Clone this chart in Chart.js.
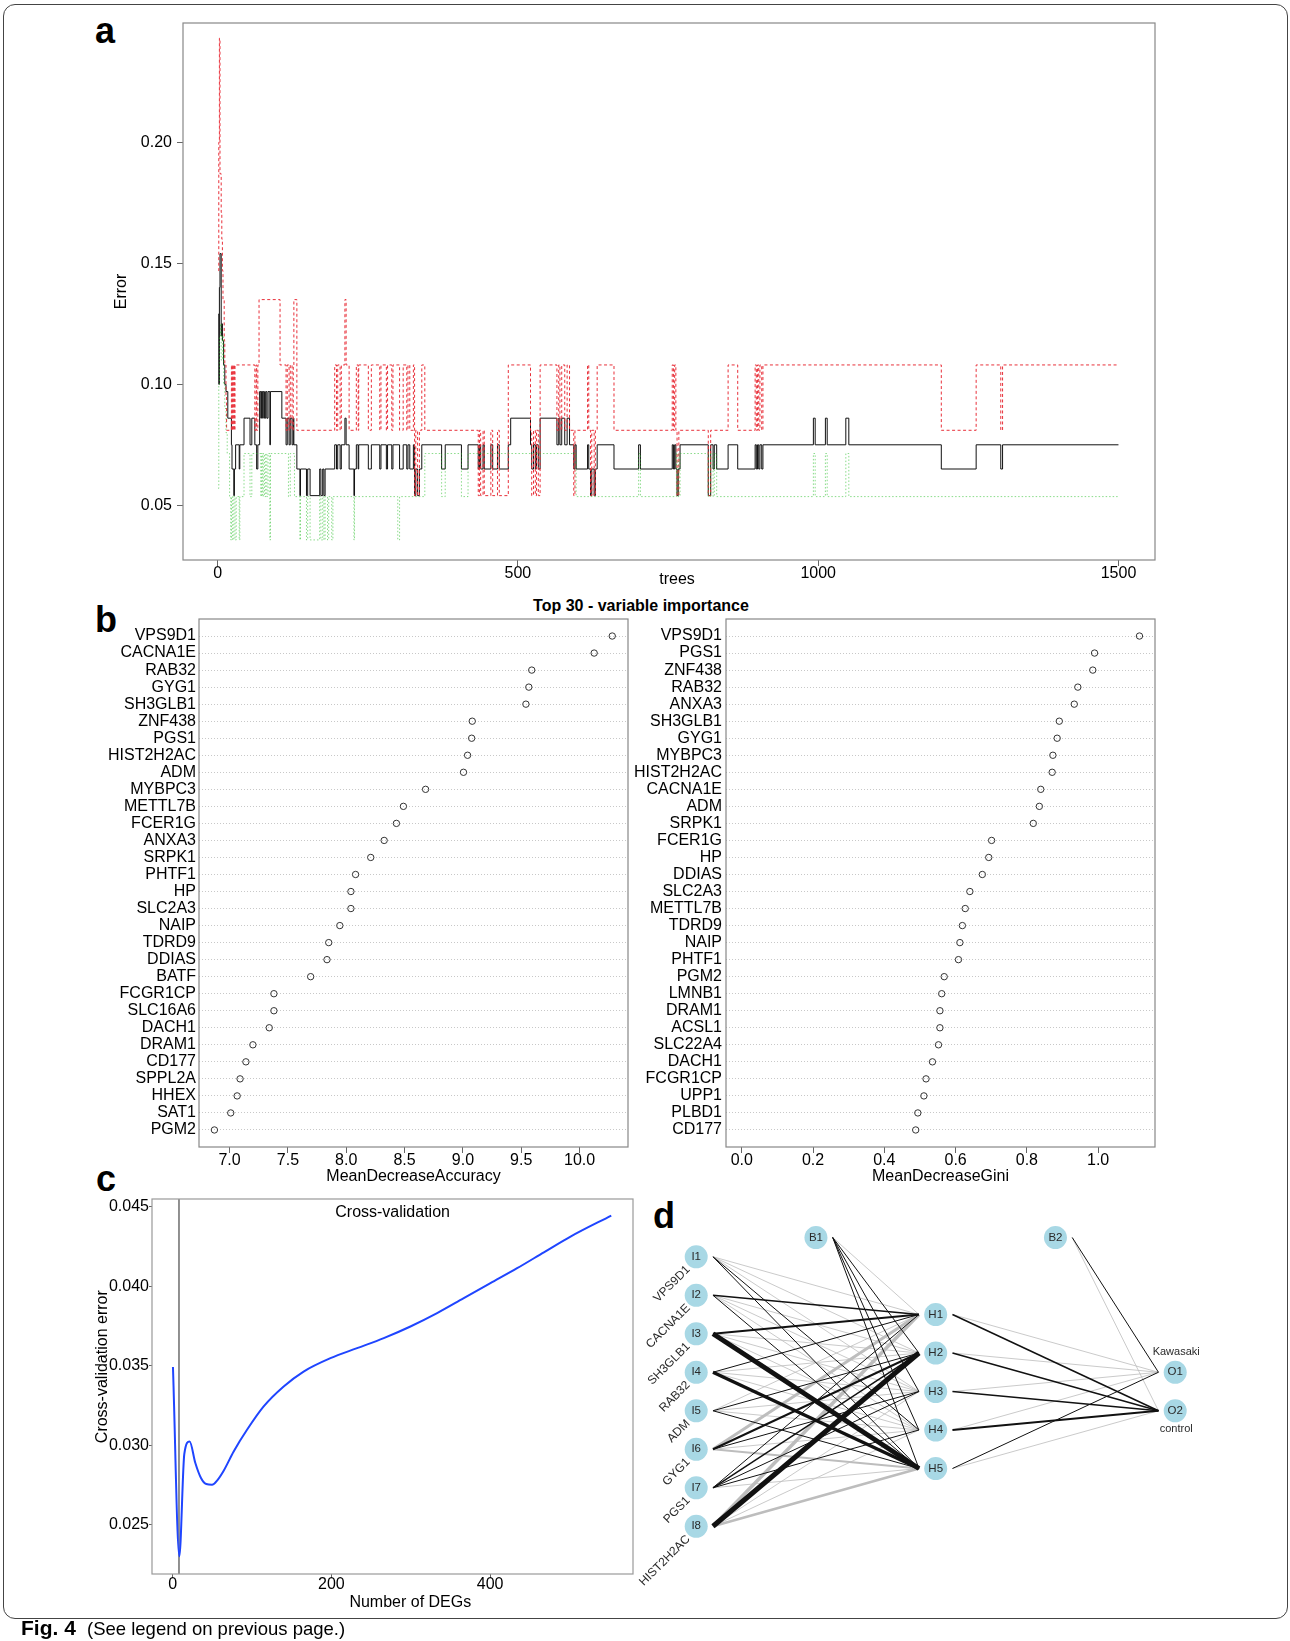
<!DOCTYPE html>
<html>
<head>
<meta charset="utf-8">
<script src="https://cdn.jsdelivr.net/npm/chart.js@4.4.1/dist/chart.umd.min.js"></script>
<style>
    body { margin: 0; background: #fff; width: 1290px; height: 1641px; overflow: hidden; position: relative;
           font-family: "Liberation Sans", Arial, sans-serif; color: #000; }
    canvas { position: absolute; }
    #frame { position: absolute; left: 3px; top: 4px; width: 1283px; height: 1613px;
             border: 1.5px solid #444; border-radius: 12px; }
    .panel { position: absolute; font-size: 36px; font-weight: bold; line-height: 40px; transform: translate(-50%, -50%); }
    #viTitle { position: absolute; left: 641px; top: 606px; transform: translate(-50%, -50%);
               font-size: 16px; font-weight: bold; white-space: nowrap; }
    #caption { position: absolute; left: 21px; top: 1617px; font-size: 18.5px; line-height: 22px; white-space: nowrap; }
    #caption b { font-size: 21px; margin-right: 6px; }
</style>
</head>
<body>
<div id="frame"></div>
<div class="panel" style="left:105px;top:31px">a</div>
<div class="panel" style="left:106px;top:620px">b</div>
<div class="panel" style="left:106px;top:1179px">c</div>
<div class="panel" style="left:664px;top:1216px">d</div>
<div id="viTitle">Top 30 - variable importance</div>

<canvas id="errChart" width="1100" height="600" style="left:90px;top:0px"></canvas>
<canvas id="accChart" width="540" height="580" style="left:90px;top:614px"></canvas>
<canvas id="giniChart" width="545" height="580" style="left:630px;top:614px"></canvas>
<canvas id="cvChart" width="600" height="430" style="left:40px;top:1190px"></canvas>
<canvas id="netChart" width="662" height="420" style="left:628px;top:1190px"></canvas>

<div id="caption"><b>Fig. 4</b> (See legend on previous page.)</div>

<script>
// ---------- a: error rate vs number of trees (value holds until next tree) ----------
const oobTrees = [1, 2, 3, 4, 6, 7, 8, 10, 12, 14, 17, 23, 24, 27, 28, 30, 36, 37, 44, 54, 57, 62, 65, 67, 70, 72, 73, 75, 76, 78, 80, 82, 84, 87, 88,
    107, 114, 116, 119, 121, 124, 126, 127, 132, 137, 138, 148, 150, 154, 170, 172, 175, 177, 179, 195, 198, 200, 204, 206, 212, 214, 219,
    227, 228, 231, 234, 235, 251, 256, 270, 272, 281, 283, 290, 292, 303, 309, 315, 317, 320, 326, 328, 330, 333, 336, 340, 373, 379,
    406, 417, 434, 436, 438, 442, 444, 455, 458, 466, 469, 484, 488, 521, 523, 526, 529, 531, 534, 537, 565, 568, 570, 573, 578, 582,
    586, 593, 595, 597, 616, 618, 621, 623, 627, 629, 632, 660, 701, 704, 757, 759, 761, 763, 765, 767, 770, 817, 821, 825, 827, 831,
    850, 866, 895, 897, 899, 901, 903, 906, 908, 992, 995, 1012, 1015, 1046, 1051, 1205, 1263, 1304, 1307, 1500];
const oobErr = [0.129, 0.100, 0.140, 0.154, 0.120, 0.125, 0.118, 0.108, 0.100, 0.097, 0.086, 0.075, 0.065, 0.054, 0.065, 0.075, 0.065, 0.075, 0.086, 0.075, 0.086, 0.075, 0.065, 0.075, 0.097, 0.086, 0.097, 0.086, 0.097, 0.086, 0.097, 0.086, 0.097, 0.075, 0.097,
    0.086, 0.075, 0.086, 0.075, 0.086, 0.075, 0.086, 0.075, 0.065, 0.054, 0.065, 0.054, 0.065, 0.054, 0.065, 0.054, 0.065, 0.054, 0.065, 0.075, 0.065, 0.075, 0.065, 0.075, 0.086, 0.075, 0.065,
    0.054, 0.065, 0.075, 0.065, 0.075, 0.065, 0.075, 0.065, 0.075, 0.065, 0.075, 0.065, 0.075, 0.065, 0.075, 0.065, 0.075, 0.065, 0.075, 0.054, 0.065, 0.054, 0.065, 0.075, 0.065, 0.075,
    0.065, 0.075, 0.065, 0.075, 0.065, 0.075, 0.065, 0.075, 0.065, 0.075, 0.065, 0.075, 0.086, 0.075, 0.065, 0.075, 0.065, 0.075, 0.065, 0.086, 0.075, 0.086, 0.075, 0.086, 0.075, 0.086,
    0.075, 0.065, 0.075, 0.065, 0.075, 0.065, 0.054, 0.065, 0.054, 0.065, 0.075, 0.065, 0.075, 0.065, 0.075, 0.065, 0.075, 0.065, 0.054, 0.065, 0.075, 0.054, 0.075, 0.065, 0.075, 0.065,
    0.075, 0.065, 0.075, 0.065, 0.075, 0.065, 0.075, 0.065, 0.075, 0.086, 0.075, 0.086, 0.075, 0.086, 0.075, 0.065, 0.075, 0.065, 0.075, 0.075];

const redTrees = [1, 2, 3, 4, 6, 7, 8, 9, 11, 12, 14, 15, 23, 24, 25, 26, 27, 28, 29, 62, 64, 65, 67, 69, 104, 114, 116, 119, 121, 124, 126, 127, 132,
    195, 198, 200, 204, 206, 212, 214, 219, 231, 234, 235, 251, 256, 270, 272, 281, 283, 290, 292, 303, 309, 315, 317, 320, 326, 328, 330, 333, 336,
    340, 345, 434, 436, 438, 442, 444, 455, 458, 466, 469, 484, 521, 523, 526, 529, 531, 534, 537, 565, 568, 570, 573, 578, 582, 586, 593, 595,
    616, 618, 621, 623, 627, 629, 632, 660, 757, 759, 761, 763, 765, 768, 817, 821, 850, 866, 895, 897, 899, 901, 903, 906, 908, 1205, 1263, 1304, 1307, 1500];
const redErr = [0.147, 0.200, 0.243, 0.187, 0.171, 0.160, 0.147, 0.135, 0.118, 0.108, 0.095, 0.081, 0.108, 0.081, 0.108, 0.081, 0.108, 0.081, 0.108, 0.081, 0.108, 0.081, 0.108, 0.135, 0.108, 0.081, 0.108, 0.081, 0.108, 0.081, 0.108, 0.135, 0.081,
    0.108, 0.081, 0.108, 0.081, 0.108, 0.135, 0.108, 0.081, 0.108, 0.081, 0.108, 0.081, 0.108, 0.081, 0.108, 0.081, 0.108, 0.081, 0.108, 0.081, 0.108, 0.081, 0.108, 0.081, 0.108, 0.054, 0.081, 0.054, 0.081,
    0.108, 0.081, 0.054, 0.081, 0.054, 0.081, 0.054, 0.081, 0.054, 0.081, 0.054, 0.108, 0.081, 0.054, 0.081, 0.054, 0.081, 0.054, 0.108, 0.081, 0.108, 0.081, 0.108, 0.081, 0.108, 0.081, 0.054, 0.081,
    0.108, 0.081, 0.054, 0.081, 0.054, 0.081, 0.108, 0.081, 0.108, 0.081, 0.108, 0.081, 0.054, 0.081, 0.054, 0.081, 0.108, 0.081, 0.108, 0.081, 0.108, 0.081, 0.108, 0.081, 0.108, 0.081, 0.108, 0.081, 0.108, 0.108];

const greenTrees = [1, 2, 3, 5, 6, 8, 10, 12, 14, 16, 20, 22, 23, 25, 27, 29, 31, 36, 37, 44, 54, 57, 72, 73, 75, 76, 78, 80, 82, 84, 87, 88,
    118, 121, 128, 137, 138, 148, 150, 154, 170, 172, 175, 177, 179, 183, 185, 190, 192, 227, 228, 300, 303, 345, 373, 379, 406, 417,
    597, 701, 704, 764, 767, 770, 817, 821, 825, 827, 831, 992, 995, 1012, 1015, 1046, 1051, 1500];
const greenErr = [0.057, 0.100, 0.120, 0.125, 0.110, 0.120, 0.100, 0.090, 0.080, 0.0714, 0.0536, 0.0357, 0.0536, 0.0357, 0.0536, 0.0357, 0.0536, 0.0357, 0.0536, 0.0714, 0.0536, 0.0714, 0.0536, 0.0714, 0.0536, 0.0714, 0.0536, 0.0714, 0.0536, 0.0714, 0.0357, 0.0714,
    0.0536, 0.0714, 0.0536, 0.0357, 0.0536, 0.0357, 0.0536, 0.0357, 0.0536, 0.0357, 0.0536, 0.0357, 0.0536, 0.0357, 0.0536, 0.0357, 0.0536, 0.0357, 0.0536, 0.0357, 0.0536, 0.0714, 0.0536, 0.0714, 0.0536, 0.0714,
    0.0536, 0.0714, 0.0536, 0.0714, 0.0536, 0.0714, 0.0536, 0.0714, 0.0536, 0.0714, 0.0536, 0.0714, 0.0536, 0.0714, 0.0536, 0.0714, 0.0536, 0.0536];

const treeTicks = [0, 500, 1000, 1500];
const errorTicks = [0.05, 0.10, 0.15, 0.20];

// ---------- b: variable importance ----------
const accGenes = ['VPS9D1', 'CACNA1E', 'RAB32', 'GYG1', 'SH3GLB1', 'ZNF438', 'PGS1', 'HIST2H2AC', 'ADM', 'MYBPC3', 'METTL7B', 'FCER1G', 'ANXA3', 'SRPK1', 'PHTF1',
    'HP', 'SLC2A3', 'NAIP', 'TDRD9', 'DDIAS', 'BATF', 'FCGR1CP', 'SLC16A6', 'DACH1', 'DRAM1', 'CD177', 'SPPL2A', 'HHEX', 'SAT1', 'PGM2'];
const accValues = [10.28, 10.125, 9.59, 9.565, 9.54, 9.08, 9.075, 9.04, 9.005, 8.68, 8.49, 8.43, 8.325, 8.21, 8.08,
    8.04, 8.04, 7.945, 7.85, 7.835, 7.695, 7.38, 7.38, 7.34, 7.20, 7.14, 7.09, 7.065, 7.01, 6.87];
const accTicks = [7.0, 7.5, 8.0, 8.5, 9.0, 9.5, 10.0];

const giniGenes = ['VPS9D1', 'PGS1', 'ZNF438', 'RAB32', 'ANXA3', 'SH3GLB1', 'GYG1', 'MYBPC3', 'HIST2H2AC', 'CACNA1E', 'ADM', 'SRPK1', 'FCER1G', 'HP', 'DDIAS',
    'SLC2A3', 'METTL7B', 'TDRD9', 'NAIP', 'PHTF1', 'PGM2', 'LMNB1', 'DRAM1', 'ACSL1', 'SLC22A4', 'DACH1', 'FCGR1CP', 'UPP1', 'PLBD1', 'CD177'];
const giniValues = [1.116, 0.990, 0.985, 0.943, 0.933, 0.891, 0.885, 0.873, 0.871, 0.839, 0.835, 0.818, 0.701, 0.693, 0.675,
    0.640, 0.627, 0.619, 0.612, 0.608, 0.568, 0.561, 0.556, 0.556, 0.552, 0.535, 0.517, 0.511, 0.494, 0.488];
const giniTicks = [0.0, 0.2, 0.4, 0.6, 0.8, 1.0];

// ---------- c: cross-validation ----------
const degCounts = [0.4, 8.4, 14.7, 21.4, 28.6, 35.7, 42.4, 49.6, 56.7, 64.3, 76.9, 93.7, 114.7, 139.9, 165, 198.8, 232.4, 266, 299.6, 333.2, 366.8, 400.4, 434, 467.7, 501.3, 552.6];
const cvErrors = [0.03492, 0.02303, 0.02946, 0.03025, 0.02889, 0.02795, 0.02757, 0.02753, 0.02784, 0.02841, 0.02962, 0.03098, 0.03245, 0.03370, 0.03464, 0.03548, 0.03611,
    0.03674, 0.03747, 0.03831, 0.03925, 0.04019, 0.04113, 0.04213, 0.04312, 0.04444];
const bestDegCount = 8;
const degTicks = [0, 200, 400];
const cvTicks = [0.025, 0.030, 0.035, 0.040, 0.045];

// ---------- d: neural network ----------
const inputGenes = ['VPS9D1', 'CACNA1E', 'SH3GLB1', 'RAB32', 'ADM', 'GYG1', 'PGS1', 'HIST2H2AC'];
const hiddenUnits = ['H1', 'H2', 'H3', 'H4', 'H5'];
const outputClasses = ['Kawasaki', 'control'];
// signed weights, input rows x hidden columns (sign -> colour, size -> line width)
const weightsIH = [
    [-0.8, -0.8, -0.8, 1.0, 1.0],
    [1.6, -0.8, -0.8, -0.8, 1.0],
    [2.0, -0.8, -0.8, -0.8, 5.0],
    [1.0, -0.8, -0.8, -0.8, 3.5],
    [-0.8, 1.0, -0.8, -0.8, 1.0],
    [-3.0, 2.0, 1.0, -0.8, -2.0],
    [1.0, 1.5, 1.0, 1.0, -0.8],
    [-3.5, 5.0, -0.8, -0.8, -2.5]
];
const weightsBH = [-0.8, 1.0, 1.0, 1.0, 1.0];
const weightsHO = [[-0.8, 1.5], [-0.8, 1.5], [-0.8, 1.5], [-0.8, 1.8], [1.0, -0.8]];
const weightsBO = [1.0, -0.8];


Chart.defaults.font.family = '"Liberation Sans", Arial, sans-serif';
Chart.defaults.font.size = 16;
Chart.defaults.color = '#000';
Chart.defaults.animation = false;
Chart.defaults.plugins.legend.display = false;
Chart.defaults.plugins.tooltip.enabled = false;

// grey box round the plot region, as R draws it
const plotBox = {
    id: 'plotBox',
    afterDraw(chart, args, opts) {
        if (!opts.color) return;
        const a = chart.chartArea;
        const ctx = chart.ctx;
        ctx.save();
        ctx.strokeStyle = opts.color;
        ctx.lineWidth = 1.2;
        ctx.strokeRect(a.left, a.top, a.right - a.left, a.bottom - a.top);
        ctx.restore();
    }
};

// extra text placed relative to the plot region (titles that R puts off-centre)
const freeLabels = {
    id: 'freeLabels',
    afterDraw(chart, args, opts) {
        if (!opts.items) return;
        const a = chart.chartArea;
        const ctx = chart.ctx;
        opts.items.forEach(it => {
            ctx.save();
            ctx.font = (it.size || 16) + 'px "Liberation Sans", Arial, sans-serif';
            ctx.fillStyle = '#000';
            ctx.textAlign = 'center';
            ctx.textBaseline = 'middle';
            ctx.translate(a.left + it.dx, a.top + it.dy);
            if (it.vertical) ctx.rotate(-Math.PI / 2);
            ctx.fillText(it.text, 0, 0);
            ctx.restore();
        });
    }
};
Chart.register(plotBox, freeLabels);

function pairs(xs, ys) {
    return xs.map((x, i) => ({ x: x, y: ys[i] }));
}

function fixedTicks(values) {
    return scale => { scale.ticks = values.map(v => ({ value: v })); };
}

// force the axis size and drop the label overhang padding, so the plot box lands where R put it
function fixSize(width, height) {
    return scale => {
        if (width) scale.width = width;
        if (height) scale.height = height;
        scale.paddingTop = 0; scale.paddingBottom = 0;
        scale.paddingLeft = 0; scale.paddingRight = 0;
    };
}

// axis with outward tick marks only (box drawn by plugin)
function rAxis(opts) {
    return {
        type: 'linear',
        min: opts.min,
        max: opts.max,
        afterBuildTicks: fixedTicks(opts.ticks),
        afterFit: fixSize(opts.width, opts.height),
        grid: { drawOnChartArea: false, drawTicks: true, tickLength: opts.tickLength || 6, color: '#666' },
        border: { display: false },
        ticks: {
            autoSkip: false, maxRotation: 0, padding: opts.padding || 0,
            font: { size: 16, lineHeight: 1 },
            callback: v => v.toFixed(opts.digits)
        },
        title: opts.title ? { display: true, text: opts.title, font: { size: 16 }, padding: opts.titlePadding } : { display: false }
    };
}

const baseOptions = { responsive: false, devicePixelRatio: 1, events: [] };

// ---------- a ----------
new Chart(document.getElementById('errChart'), {
    type: 'line',
    data: {
        datasets: [
            { data: pairs(greenTrees, greenErr), stepped: true, borderColor: 'rgba(40,190,40,0.55)', borderWidth: 1, borderDash: [1.5, 2], pointRadius: 0 },
            { data: pairs(redTrees, redErr), stepped: true, borderColor: '#e8303a', borderWidth: 1, borderDash: [3, 2.5], pointRadius: 0 },
            { data: pairs(oobTrees, oobErr), stepped: true, borderColor: '#111', borderWidth: 1, pointRadius: 0 }
        ]
    },
    options: {
        ...baseOptions,
        layout: { autoPadding: false, padding: { left: 0, top: 23, right: 35, bottom: 0 } },
        scales: {
            x: rAxis({ min: -57.6, max: 1560.8, ticks: treeTicks, digits: 0, height: 40 }),
            y: rAxis({ min: 0.0274, max: 0.2493, ticks: errorTicks, digits: 2, width: 93, padding: 5, title: 'Error', titlePadding: { top: 22, bottom: 0 } })
        },
        plugins: {
            plotBox: { color: '#888' },
            freeLabels: { items: [{ text: 'trees', dx: 494, dy: 557 }] }
        }
    }
});

// ---------- b ----------
function dotChart(canvasId, genes, values, ticks, range, yWidth, labelPad, rightPad, title) {
    const n = genes.length;
    new Chart(document.getElementById(canvasId), {
        type: 'scatter',
        data: {
            datasets: [{
                data: values.map((v, i) => ({ x: v, y: n - i })),
                pointRadius: 3.2, pointBorderWidth: 1, pointBorderColor: '#333', pointBackgroundColor: 'rgba(0,0,0,0)'
            }]
        },
        options: {
            ...baseOptions,
            layout: { autoPadding: false, padding: { left: 0, top: 5, right: rightPad, bottom: 0 } },
            scales: {
                x: rAxis({ min: range[0], max: range[1], ticks: ticks, digits: 1, height: 47, title: title, titlePadding: { top: 0, bottom: 8 } }),
                y: {
                    type: 'linear', min: 0, max: n + 1,
                    afterBuildTicks: fixedTicks(genes.map((g, i) => i + 1)),
                    afterFit: fixSize(yWidth, 0),
                    grid: { drawOnChartArea: true, drawTicks: false, color: '#c8c8c8', lineWidth: 1 },
                    border: { display: false, dash: [1, 2] },
                    ticks: { autoSkip: false, padding: labelPad, font: { size: 16 }, callback: v => genes[n - v] }
                }
            },
            plugins: { plotBox: { color: '#888' } }
        }
    });
}
dotChart('accChart', accGenes, accValues, accTicks, [6.738, 10.415], 109, 3, 2, 'MeanDecreaseAccuracy');
dotChart('giniChart', giniGenes, giniValues, giniTicks, [-0.0444, 1.1596], 96, 4, 20, 'MeanDecreaseGini');

// ---------- c ----------
const cvMin = 0.02192, cvMax = 0.04548;
new Chart(document.getElementById('cvChart'), {
    type: 'line',
    data: {
        datasets: [
            { data: pairs(degCounts, cvErrors), borderColor: '#1f45ff', borderWidth: 2, pointRadius: 0, cubicInterpolationMode: 'monotone' },
            { data: [{ x: bestDegCount, y: cvMin }, { x: bestDegCount, y: cvMax }], borderColor: '#555', borderWidth: 1.3, pointRadius: 0 }
        ]
    },
    options: {
        ...baseOptions,
        layout: { autoPadding: false, padding: { left: 0, top: 9, right: 7, bottom: 0 } },
        scales: {
            x: rAxis({ min: -26, max: 580, ticks: degTicks, digits: 0, height: 46, tickLength: 4, padding: -1 }),
            y: rAxis({ min: cvMin, max: cvMax, ticks: cvTicks, digits: 3, width: 112, tickLength: 3, padding: 0 })
        },
        plugins: {
            plotBox: { color: '#999' },
            freeLabels: {
                items: [
                    { text: 'Cross-validation', dx: 240.6, dy: 13.3 },
                    { text: 'Number of DEGs', dx: 258.3, dy: 403.7 },
                    { text: 'Cross-validation error', dx: -49.7, dy: 167.7, vertical: true }
                ]
            }
        }
    }
});

// ---------- d ----------
const biasRow = -4;
const nodeGap = 0.07;
const nodes = [];
inputGenes.forEach((g, i) => nodes.push({ id: 'I' + (i + 1), x: 0, y: i - (inputGenes.length - 1) / 2 }));
hiddenUnits.forEach((h, i) => nodes.push({ id: h, x: 1, y: i - (hiddenUnits.length - 1) / 2 }));
outputClasses.forEach((o, i) => nodes.push({ id: 'O' + (i + 1), x: 2, y: i - (outputClasses.length - 1) / 2 }));
nodes.push({ id: 'B1', x: 0.5, y: biasRow });
nodes.push({ id: 'B2', x: 1.5, y: biasRow });
const nodeById = id => nodes.find(n => n.id === id);

function edge(fromId, toId, w) {
    const a = nodeById(fromId), b = nodeById(toId);
    return {
        data: [{ x: a.x + nodeGap, y: a.y }, { x: b.x - nodeGap, y: b.y }],
        showLine: true, pointRadius: 0,
        borderColor: w > 0 ? '#111' : '#bdbdbd',
        borderWidth: Math.abs(w)
    };
}

const edges = [];
weightsIH.forEach((row, i) => row.forEach((w, j) => edges.push(edge('I' + (i + 1), hiddenUnits[j], w))));
weightsBH.forEach((w, j) => edges.push(edge('B1', hiddenUnits[j], w)));
weightsHO.forEach((row, j) => row.forEach((w, k) => edges.push(edge(hiddenUnits[j], 'O' + (k + 1), w))));
weightsBO.forEach((w, k) => edges.push(edge('B2', 'O' + (k + 1), w)));
// black lines listed first so they are drawn over the grey ones
edges.sort((p, q) => (q.borderColor === '#111') - (p.borderColor === '#111'));

const netLabels = {
    id: 'netLabels',
    afterDatasetsDraw(chart) {
        const ctx = chart.ctx;
        const xs = chart.scales.x, ys = chart.scales.y;
        ctx.save();
        ctx.font = '11.5px "Liberation Sans", Arial, sans-serif';
        ctx.fillStyle = '#2a2a2a';
        ctx.textAlign = 'center';
        ctx.textBaseline = 'middle';
        nodes.forEach(n => ctx.fillText(n.id, xs.getPixelForValue(n.x), ys.getPixelForValue(n.y)));

        // gene names beside the input nodes, turned 45 degrees
        ctx.font = '12px "Liberation Sans", Arial, sans-serif';
        inputGenes.forEach((g, i) => {
            const n = nodeById('I' + (i + 1));
            ctx.save();
            ctx.translate(xs.getPixelForValue(n.x) - 8, ys.getPixelForValue(n.y) + 11);
            ctx.rotate(-Math.PI / 4);
            ctx.textAlign = 'right';
            ctx.fillText(g, 0, 0);
            ctx.restore();
        });

        // class names above / below the output nodes
        ctx.font = '11px "Liberation Sans", Arial, sans-serif';
        outputClasses.forEach((c, k) => {
            const n = nodeById('O' + (k + 1));
            const dy = k === 0 ? -20 : 18;
            ctx.fillText(c, xs.getPixelForValue(n.x) + 1, ys.getPixelForValue(n.y) + dy);
        });
        ctx.restore();
    }
};

new Chart(document.getElementById('netChart'), {
    type: 'scatter',
    data: {
        datasets: [{
            data: nodes.map(n => ({ x: n.x, y: n.y })),
            pointRadius: 11.5, pointBackgroundColor: '#a8d8e5', pointBorderWidth: 0
        }].concat(edges)
    },
    options: {
        ...baseOptions,
        layout: { autoPadding: false, padding: 0 },
        scales: {
            x: { type: 'linear', display: false, min: -0.2848, max: 2.4793 },
            y: { type: 'linear', display: false, reverse: true, min: -5.234, max: 5.675 }
        },
        plugins: { plotBox: { color: null } }
    },
    plugins: [netLabels]
});
</script>
</body>
</html>
